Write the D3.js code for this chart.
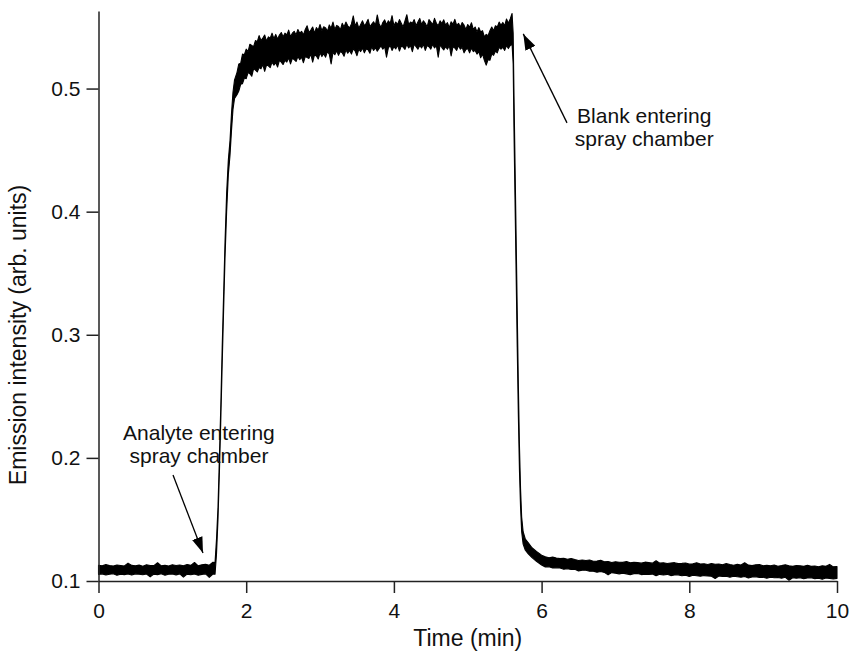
<!DOCTYPE html>
<html>
<head>
<meta charset="utf-8">
<script src="https://cdn.jsdelivr.net/npm/d3@7/dist/d3.min.js"></script>
<style>
  html, body { margin: 0; padding: 0; background: #fff; }
  svg { display: block; }
  text { font-family: "Liberation Sans", Arial, Helvetica, sans-serif; fill: #111; }
</style>
</head>
<body>
<svg id="chart" width="850" height="653"></svg>
<script>
// Emission trace: time (min) with the upper and lower edge of the noisy signal band.
const timeMin = [
  // blank baseline
  0.00,0.05,0.10,0.15,0.20,0.25,0.30,0.35,0.40,0.45,0.50,0.55,0.60,0.65,0.70,0.75,
  0.80,0.85,0.90,0.95,1.00,1.05,1.10,1.15,1.20,1.25,1.30,1.35,1.40,1.45,1.50,1.55,
  // rise
  1.578,1.598,1.618,1.637,1.655,1.675,1.695,1.713,1.735,1.758,1.781,1.801,1.821,1.842,
  // analyte plateau
  1.875,1.900,1.925,1.950,1.975,2.000,2.025,2.050,2.075,2.100,
  2.125,2.150,2.175,2.200,2.225,2.250,2.275,2.300,2.325,2.350,
  2.375,2.400,2.425,2.450,2.475,2.500,2.525,2.550,2.575,2.600,
  2.625,2.650,2.675,2.700,2.725,2.750,2.775,2.800,2.825,2.850,
  2.875,2.900,2.925,2.950,2.975,3.000,3.025,3.050,3.075,3.100,
  3.125,3.150,3.175,3.200,3.225,3.250,3.275,3.300,3.325,3.350,
  3.375,3.400,3.425,3.450,3.475,3.500,3.525,3.550,3.575,3.600,
  3.625,3.650,3.675,3.700,3.725,3.750,3.775,3.800,3.825,3.850,
  3.875,3.900,3.925,3.950,3.975,4.000,4.025,4.050,4.075,4.100,
  4.125,4.150,4.175,4.200,4.225,4.250,4.275,4.300,4.325,4.350,
  4.375,4.400,4.425,4.450,4.475,4.500,4.525,4.550,4.575,4.600,
  4.625,4.650,4.675,4.700,4.725,4.750,4.775,4.800,4.825,4.850,
  4.875,4.900,4.925,4.950,4.975,5.000,5.025,5.050,5.075,5.100,
  5.125,5.150,5.175,5.200,5.225,5.250,5.275,5.300,5.325,5.350,
  5.375,5.400,5.425,5.450,5.475,5.500,5.525,5.550,5.575,5.600,
  // fall
  5.615,5.625,5.640,5.655,5.670,5.685,5.700,5.715,5.730,5.750,5.780,5.820,5.870,5.930,6.00,
  // washout tail
  6.05,6.10,6.15,6.20,6.25,6.30,6.35,6.40,6.45,6.50,
  6.55,6.60,6.65,6.70,6.75,6.80,6.85,6.90,6.95,7.00,
  7.05,7.10,7.15,7.20,7.25,7.30,7.35,7.40,7.45,7.50,
  7.55,7.60,7.65,7.70,7.75,7.80,7.85,7.90,7.95,8.00,
  8.05,8.10,8.15,8.20,8.25,8.30,8.35,8.40,8.45,8.50,
  8.55,8.60,8.65,8.70,8.75,8.80,8.85,8.90,8.95,9.00,
  9.05,9.10,9.15,9.20,9.25,9.30,9.35,9.40,9.45,9.50,
  9.55,9.60,9.65,9.70,9.75,9.80,9.85,9.90,9.95,10.00
];

const signalHigh = [
  0.1128,0.1123,0.1133,0.1125,0.1121,0.1130,0.1126,0.1122,0.1145,0.1127,0.1124,0.1129,0.1120,0.1131,0.1126,0.1125,
  0.1148,0.1123,0.1128,0.1121,0.1132,0.1126,0.1130,0.1124,0.1134,0.1127,0.1150,0.1123,0.1131,0.1136,0.1128,0.1152,
  0.1150,0.134,0.160,0.200,0.240,0.290,0.335,0.375,0.415,0.442,0.458,0.480,0.497,0.507,
  0.513,0.520,0.5205,0.528,0.5275,0.532,0.530,0.536,0.535,0.534,
  0.539,0.538,0.543,0.539,0.541,0.5435,0.5385,0.542,0.541,0.545,
  0.5405,0.544,0.540,0.5435,0.5455,0.542,0.545,0.5435,0.5475,0.542,
  0.545,0.5465,0.5435,0.548,0.545,0.5465,0.5435,0.548,0.551,0.5455,
  0.5475,0.550,0.545,0.5495,0.5475,0.552,0.547,0.5502,0.5493,0.5465,
  0.5517,0.549,0.554,0.548,0.5513,0.5505,0.5477,0.553,0.550,0.554,
  0.551,0.5493,0.5525,0.5590,0.5508,0.554,0.549,0.552,0.555,0.551,
  0.553,0.5562,0.5502,0.5523,0.5543,0.5515,0.5598,0.5525,0.5497,0.5537,
  0.5558,0.5518,0.555,0.553,0.5592,0.551,0.554,0.552,0.556,0.553,
  0.550,0.555,0.5600,0.552,0.554,0.553,0.556,0.551,0.554,0.557,
  0.552,0.555,0.553,0.550,0.556,0.554,0.552,0.557,0.553,0.551,
  0.555,0.5528,0.5558,0.5515,0.5535,0.5495,0.5543,0.5523,0.5562,0.5512,
  0.553,0.550,0.5537,0.5515,0.548,0.552,0.5497,0.5535,0.548,0.550,
  0.546,0.5495,0.546,0.547,0.542,0.544,0.543,0.547,0.550,0.547,
  0.551,0.550,0.554,0.5515,0.5537,0.551,0.5565,0.553,0.5565,0.561,
  0.545,0.500,0.440,0.380,0.320,0.260,0.210,0.175,0.152,0.140,0.134,0.131,0.127,0.124,0.121,
  0.1197,0.1189,0.1194,0.1187,0.1182,0.1185,0.1177,0.1183,0.1174,0.1167,
  0.1171,0.1166,0.1171,0.1161,0.1163,0.1168,0.1156,0.1159,0.1150,0.1157,
  0.1152,0.1151,0.1158,0.1148,0.1152,0.1149,0.1145,0.1153,0.1149,0.1145,
  0.1165,0.1145,0.1148,0.1142,0.1146,0.1149,0.1141,0.1143,0.1146,0.1137,
  0.1140,0.1148,0.1138,0.1140,0.1134,0.1142,0.1136,0.1138,0.1132,0.1141,
  0.1134,0.1128,0.1135,0.1130,0.1148,0.1129,0.1125,0.1131,0.1133,0.1124,
  0.1128,0.1124,0.1130,0.1120,0.1125,0.1131,0.1123,0.1119,0.1126,0.1123,
  0.1119,0.1127,0.1119,0.1122,0.1116,0.1123,0.1119,0.1135,0.1115,0.1118
];

const signalLow = [
  0.1053,0.1058,0.1049,0.1055,0.1059,0.1046,0.1056,0.1052,0.1057,0.1048,0.1058,0.1055,0.1051,0.1057,0.1034,0.1056,
  0.1052,0.1059,0.1047,0.1055,0.1057,0.1050,0.1058,0.1032,0.1056,0.1051,0.1057,0.1046,0.1054,0.1058,0.1030,0.1056,
  0.1055,0.122,0.150,0.188,0.228,0.276,0.322,0.362,0.400,0.430,0.446,0.466,0.483,0.492,
  0.495,0.498,0.5035,0.504,0.5085,0.508,0.513,0.512,0.510,0.516,
  0.515,0.5135,0.517,0.516,0.5195,0.514,0.519,0.5185,0.517,0.5215,
  0.519,0.521,0.5175,0.523,0.5215,0.5195,0.523,0.5215,0.525,0.520,
  0.5245,0.5235,0.522,0.526,0.5235,0.5255,0.521,0.526,0.5253,0.5245,
  0.528,0.5215,0.5273,0.5265,0.524,0.529,0.526,0.5283,0.5255,0.530,
  0.528,0.520,0.5293,0.5275,0.5307,0.527,0.530,0.529,0.5262,0.5315,
  0.5287,0.531,0.528,0.5323,0.5305,0.5267,0.532,0.530,0.533,0.529,
  0.5322,0.5315,0.5287,0.534,0.531,0.5332,0.5303,0.5325,0.5347,0.532,
  0.534,0.5255,0.533,0.535,0.531,0.534,0.5322,0.5353,0.5305,0.5345,
  0.5337,0.5318,0.536,0.533,0.535,0.530,0.536,0.534,0.532,0.535,
  0.533,0.536,0.531,0.535,0.534,0.532,0.536,0.533,0.5348,0.5255,
  0.5355,0.5333,0.5313,0.534,0.532,0.535,0.5265,0.534,0.533,0.531,
  0.535,0.532,0.5335,0.529,0.5318,0.5325,0.529,0.533,0.530,0.531,
  0.528,0.530,0.525,0.528,0.523,0.519,0.5235,0.523,0.528,0.527,
  0.5305,0.529,0.5335,0.532,0.5335,0.531,0.535,0.5325,0.535,0.536,
  0.520,0.470,0.410,0.350,0.290,0.235,0.190,0.160,0.140,0.130,0.125,0.122,0.119,0.116,0.113,
  0.1114,0.1115,0.1105,0.1107,0.1106,0.1095,0.1099,0.1094,0.1096,0.1082,
  0.1087,0.1087,0.1079,0.1080,0.1072,0.1077,0.1070,0.1050,0.1068,0.1063,
  0.1058,0.1064,0.1058,0.1052,0.1060,0.1061,0.1052,0.1056,0.1053,0.1056,
  0.1043,0.1054,0.1049,0.1054,0.1044,0.1049,0.1050,0.1043,0.1047,0.1037,
  0.1047,0.1043,0.1038,0.1044,0.1041,0.1038,0.1020,0.1041,0.1036,0.1039,
  0.1031,0.1039,0.1034,0.1031,0.1036,0.1024,0.1032,0.1035,0.1028,0.1031,
  0.1023,0.1031,0.1027,0.1028,0.1023,0.1030,0.1006,0.1027,0.1023,0.1027,
  0.1019,0.1024,0.1027,0.1019,0.1022,0.1014,0.1024,0.1021,0.1016,0.1021
];

const xTickValues = [0, 2, 4, 6, 8, 10];
const yTickValues = [0.1, 0.2, 0.3, 0.4, 0.5];

const xDomain = [0, 10];
const yDomain = [0.1, 0.563];

const xTitle = "Time (min)";
const yTitle = "Emission intensity (arb. units)";

// Annotations in data coordinates: label lines, label anchor, arrow tail and tip.
const annotations = [
  { lines: ["Analyte entering", "spray chamber"], at: [1.36, 0.2145], from: [1.009, 0.1861], to: [1.415, 0.1227] },
  { lines: ["Blank entering", "spray chamber"],   at: [7.39, 0.4721], from: [6.344, 0.4721], to: [5.752, 0.5444] }
];

const svg = d3.select("#chart");
const TICK_FONT = 21;
const TITLE_FONT = 23;
const NOTE_FONT = 21;

const x = d3.scaleLinear().domain(xDomain).range([98.5, 837]);
const y = d3.scaleLinear().domain(yDomain).range([581, 11]);

const n = Math.min(timeMin.length, signalHigh.length, signalLow.length);
const trace = timeMin.slice(0, n).map((t, i) => ({ t, hi: signalHigh[i], lo: signalLow[i] }));

// Signal band
const band = d3.area()
  .x(d => x(d.t))
  .y0(d => y(d.lo))
  .y1(d => y(d.hi));

svg.append("path")
  .datum(trace)
  .attr("d", band)
  .attr("fill", "#000")
  .attr("stroke", "#000")
  .attr("stroke-width", 1.1)
  .attr("stroke-linejoin", "round");

// Axes
const yAxis = d3.axisLeft(y)
  .tickValues(yTickValues)
  .tickFormat(d3.format(".1f"))
  .tickSize(12)
  .tickSizeOuter(0)
  .tickPadding(6);

const xAxis = d3.axisBottom(x)
  .tickValues(xTickValues)
  .tickFormat(d3.format("d"))
  .tickSize(12)
  .tickSizeOuter(0)
  .tickPadding(10);

const gy = svg.append("g").attr("transform", `translate(${x(0)},0)`).call(yAxis);
const gx = svg.append("g").attr("transform", `translate(0,${y(0.1)})`).call(xAxis);

[gx, gy].forEach(g => {
  g.select(".domain").attr("stroke", "#222").attr("stroke-width", 1.5);
  g.selectAll(".tick line").attr("stroke", "#222").attr("stroke-width", 1.5);
  g.selectAll(".tick text")
    .attr("font-size", TICK_FONT)
    .attr("font-family", "Liberation Sans, Arial, sans-serif")
    .attr("fill", "#111");
});

// Axis titles
svg.append("text")
  .attr("x", (x(0) + x(10)) / 2)
  .attr("y", 646)
  .attr("text-anchor", "middle")
  .attr("font-size", TITLE_FONT)
  .text(xTitle);

svg.append("text")
  .attr("transform", `translate(26,335) rotate(-90)`)
  .attr("text-anchor", "middle")
  .attr("font-size", TITLE_FONT)
  .text(yTitle);

// Arrowhead
svg.append("defs").append("marker")
  .attr("id", "arrowhead")
  .attr("viewBox", "0 0 16 11")
  .attr("refX", 16)
  .attr("refY", 5.5)
  .attr("markerWidth", 16)
  .attr("markerHeight", 11)
  .attr("markerUnits", "userSpaceOnUse")
  .attr("orient", "auto")
  .append("path")
  .attr("d", "M0,0 L16,5.5 L0,11 Z")
  .attr("fill", "#000");

annotations.forEach(a => {
  svg.append("line")
    .attr("x1", x(a.from[0])).attr("y1", y(a.from[1]))
    .attr("x2", x(a.to[0])).attr("y2", y(a.to[1]))
    .attr("stroke", "#000")
    .attr("stroke-width", 1.3)
    .attr("marker-end", "url(#arrowhead)");

  const t = svg.append("text")
    .attr("x", x(a.at[0]))
    .attr("y", y(a.at[1]))
    .attr("text-anchor", "middle")
    .attr("font-size", NOTE_FONT);
  a.lines.forEach((line, i) => {
    t.append("tspan")
      .attr("x", x(a.at[0]))
      .attr("dy", i === 0 ? 0 : 23)
      .text(line);
  });
});
</script>
</body>
</html>
